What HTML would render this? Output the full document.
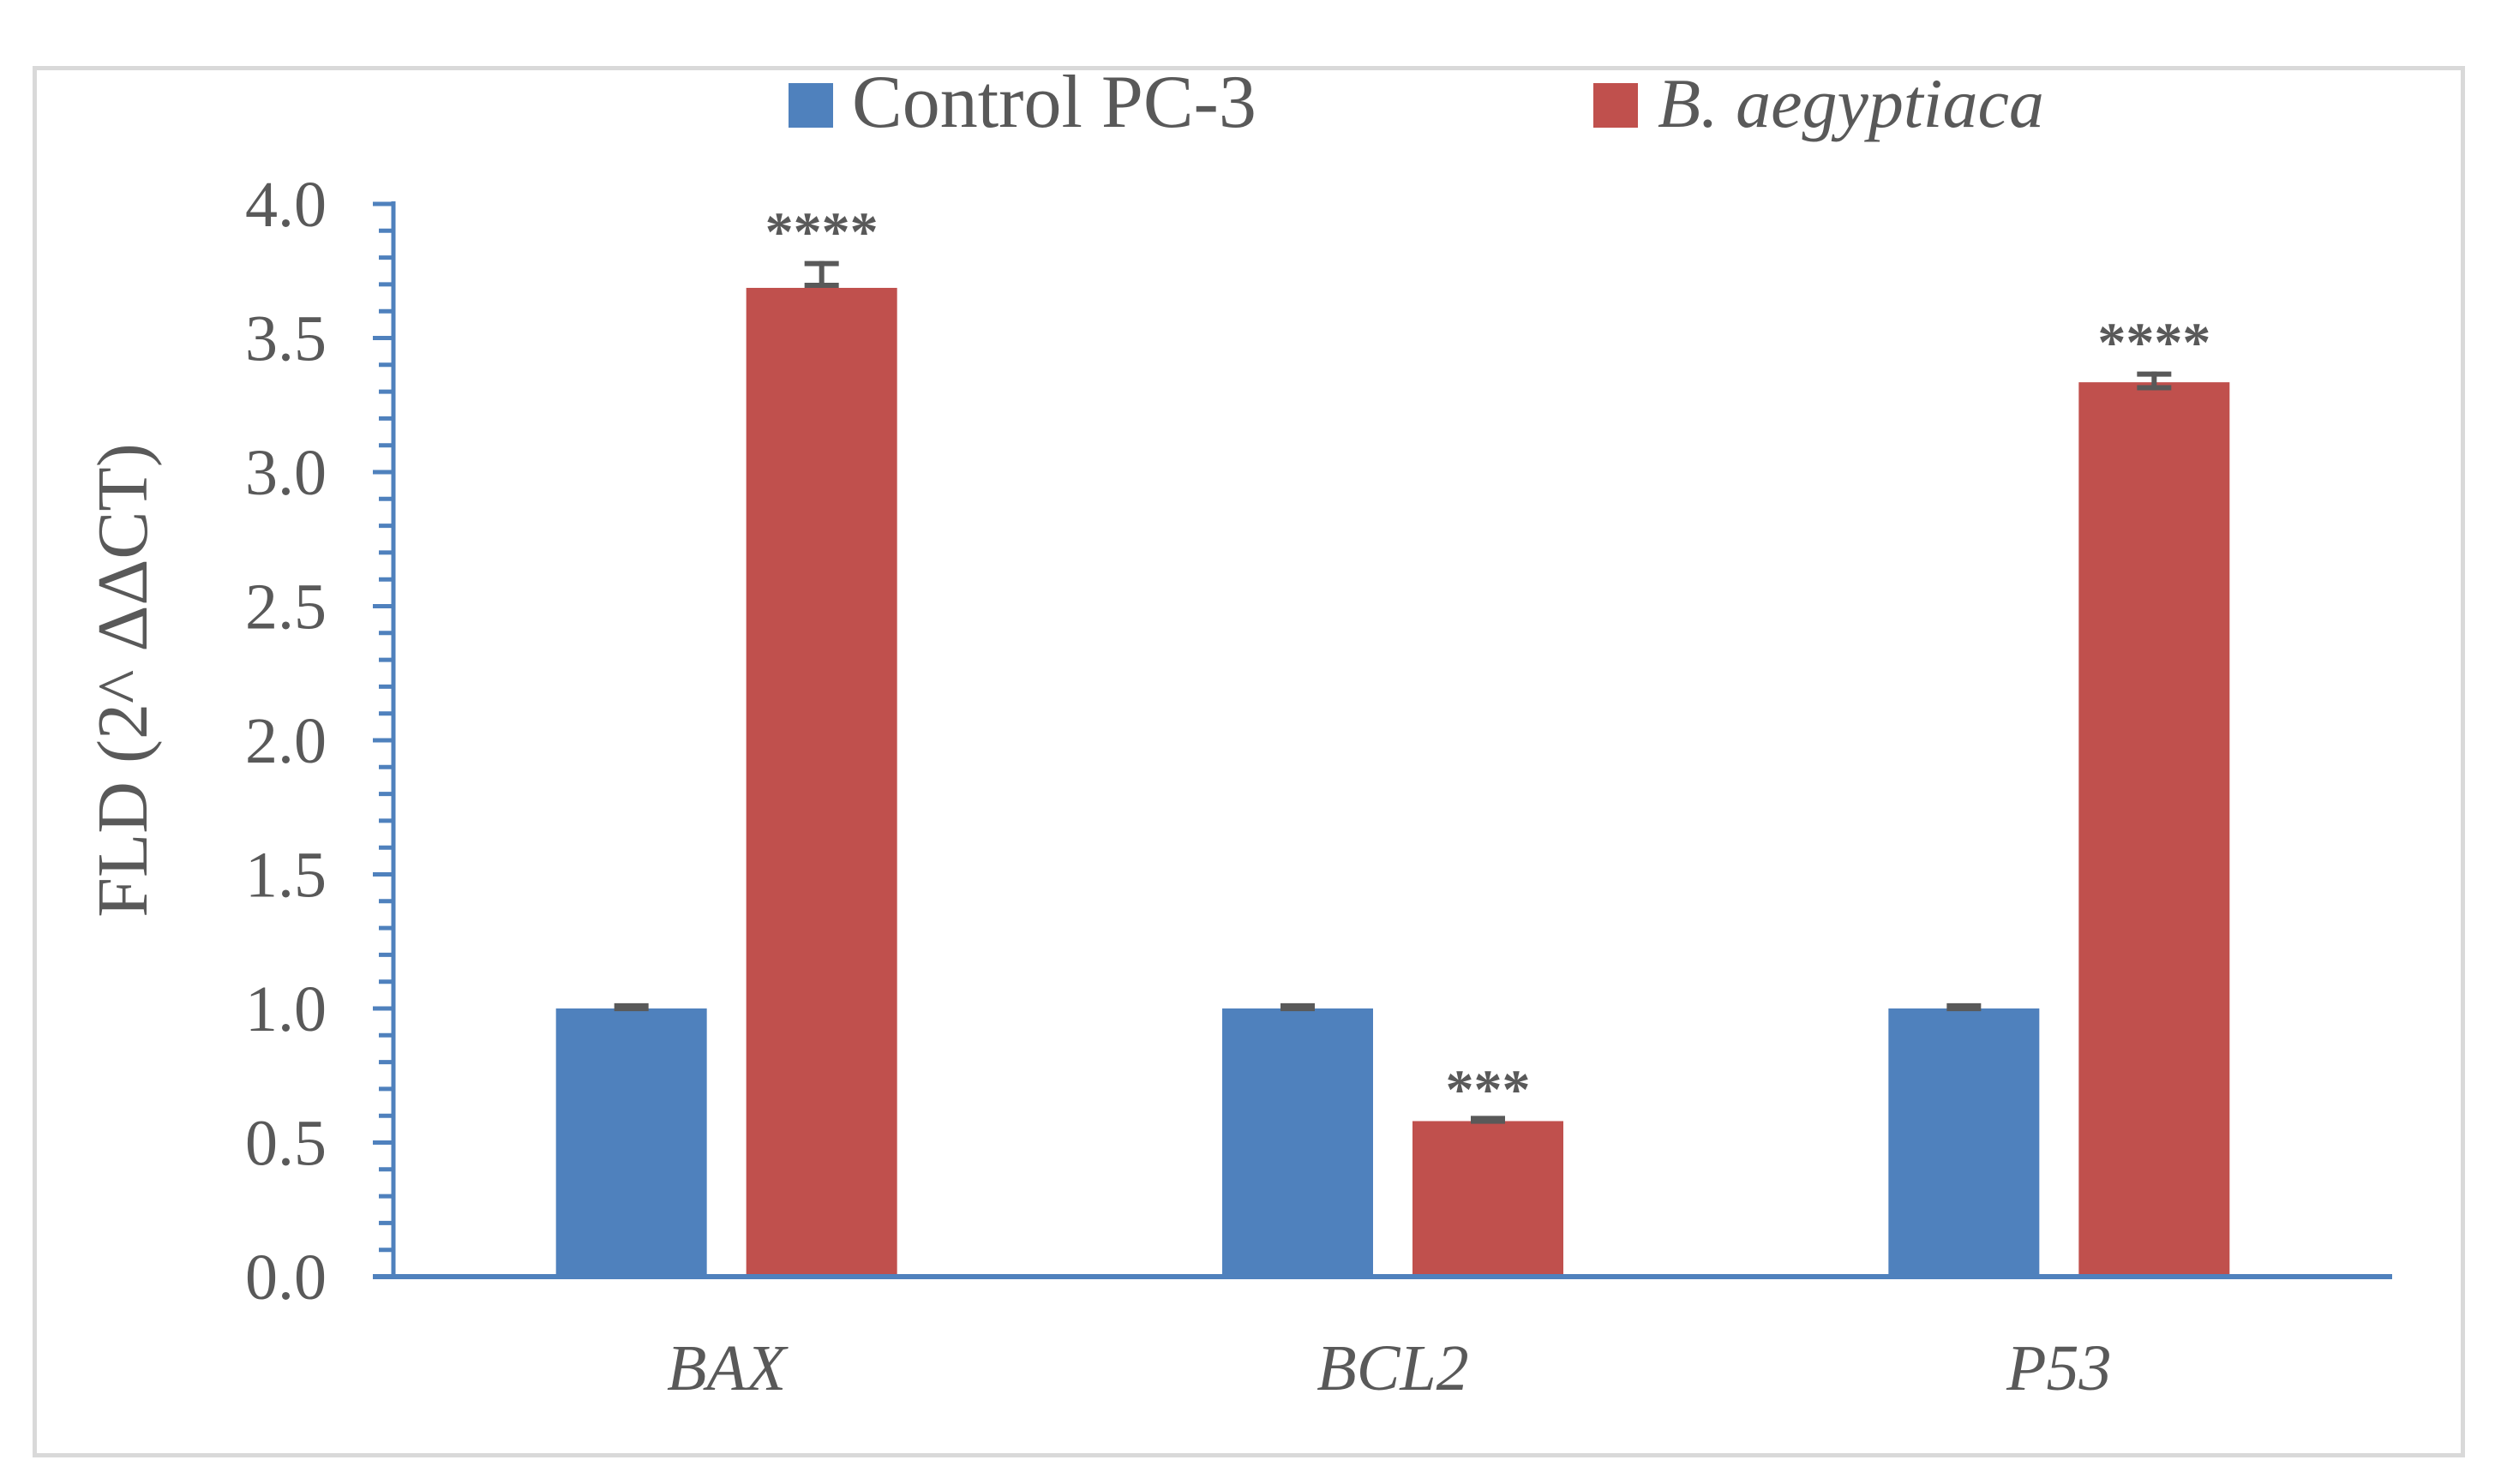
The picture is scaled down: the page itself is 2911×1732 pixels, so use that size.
<!DOCTYPE html>
<html><head><meta charset="utf-8"><style>
html,body{margin:0;padding:0;background:#fff;}
svg{display:block;}
text{font-family:"Liberation Serif",serif;fill:#595959;}
</style></head><body>
<svg id="chart" width="2911" height="1732" viewBox="0 0 2911 1732" xmlns="http://www.w3.org/2000/svg">
<rect x="40.5" y="79.5" width="2833" height="1619" fill="#fff" stroke="#d9d9d9" stroke-width="5"/>
<g>
<rect x="920" y="97" width="52" height="52" fill="#4f81bd"/>
<text x="994" y="148" font-size="88">Control PC-3</text>
<rect x="1859" y="97" width="52" height="52" fill="#c0504d"/>
<text x="1934" y="148" font-size="82" font-style="italic">B. aegyptiaca</text>
</g>
<text transform="translate(171,794) rotate(-90)" text-anchor="middle" font-size="84">FLD (2^ ΔΔCT)</text>
<g id="plot"></g>
</svg>
<script>
const categories = ["BAX", "BCL2", "P53"];
const controlValues = [1.0, 1.0, 1.0];
const treatedValues = [3.687, 0.58, 3.335];
const controlErr = [0.01, 0.01, 0.01];
const treatedErrUp = [0.1, 0.01, 0.04];
const treatedErrDown = [0.0, 0.01, 0.03];
const significance = ["****", "***", "****"];
const yTicks = [0, 0.5, 1.0, 1.5, 2.0, 2.5, 3.0, 3.5, 4.0];
const yTickLabels = ["0.0","0.5","1.0","1.5","2.0","2.5","3.0","3.5","4.0"];

const NS = "http://www.w3.org/2000/svg";
const plot = document.getElementById("plot");
const X0 = 459, X1 = 2791, Y0 = 1490, Y1 = 238, YMAX = 4.0;
const y = v => Y0 - (v / YMAX) * (Y0 - Y1);
const band = (X1 - X0) / categories.length;
const cx = i => X0 + band * (i + 0.5);
const BW = 176, GAP = 46;

function mk(tag, attrs) {
  const el = document.createElementNS(NS, tag);
  for (const k in attrs) el.setAttribute(k, attrs[k]);
  plot.appendChild(el);
  return el;
}

categories.forEach((c, i) => {
  const xc = cx(i);
  const b = mk("rect", {x: xc - GAP/2 - BW, y: y(controlValues[i]), width: BW, height: Y0 - y(controlValues[i]), fill: "#4f81bd"});
  
  
  const r = mk("rect", {x: xc + GAP/2, y: y(treatedValues[i]), width: BW, height: Y0 - y(treatedValues[i]), fill: "#c0504d"});
  
  

  const ecx = xc - GAP/2 - BW/2;
  const eb = mk("rect", {x: ecx - 20, y: y(controlValues[i] + controlErr[i]) - 3, width: 40, height: Math.max(8, y(controlValues[i] - controlErr[i]) - y(controlValues[i] + controlErr[i]) + 3), fill: "#595959"});
  
  

  const rcx = xc + GAP/2 + BW/2;
  const top = y(treatedValues[i] + treatedErrUp[i]);
  const bot = y(treatedValues[i] - treatedErrDown[i]);
  const g = mk("g", {stroke: "#595959", "stroke-width": 6});
  
  
  if (bot - top < 10) {
    const er = document.createElementNS(NS, "rect");
    er.setAttribute("x", rcx - 20); er.setAttribute("y", top - 3);
    er.setAttribute("width", 40); er.setAttribute("height", Math.max(8, bot - top + 3));
    er.setAttribute("fill", "#595959"); er.setAttribute("stroke", "none");
    g.appendChild(er);
  } else {
    [[rcx, top, rcx, bot], [rcx - 20, top + 3, rcx + 20, top + 3], [rcx - 20, bot - 3, rcx + 20, bot - 3]].forEach(p => {
      const l = document.createElementNS(NS, "line");
      l.setAttribute("x1", p[0]); l.setAttribute("y1", p[1]); l.setAttribute("x2", p[2]); l.setAttribute("y2", p[3]);
      g.appendChild(l);
    });
  }
  const s = mk("text", {x: rcx, y: top - 12, "text-anchor": "middle", "font-size": 66, "font-weight": "bold", fill: "#404040"});
  s.textContent = significance[i];
  
  

  const t = mk("text", {x: xc, y: 1622, "text-anchor": "middle", "font-size": 76, "font-style": "italic"});
  t.textContent = c;
  
  
});

const ax = mk("line", {x1: X0, y1: Y1 - 3, x2: X0, y2: Y0 + 3, stroke: "#4f81bd", "stroke-width": 5});


for (let k = 0; k <= 40; k++) {
  const v = k * 0.1;
  const major = k % 5 === 0;
  const tk = mk("line", {x1: X0 - (major ? 24 : 17), y1: y(v), x2: X0, y2: y(v), stroke: "#4f81bd", "stroke-width": 5});
  
  
}
yTicks.forEach((v, i) => {
  const t = mk("text", {x: 381, y: y(v) + 26, "text-anchor": "end", "font-size": 76});
  t.textContent = yTickLabels[i];
  
  
});
const xa = mk("line", {x1: X0 - 24, y1: Y0, x2: X1, y2: Y0, stroke: "#4f81bd", "stroke-width": 6});


</script>
</body></html>
